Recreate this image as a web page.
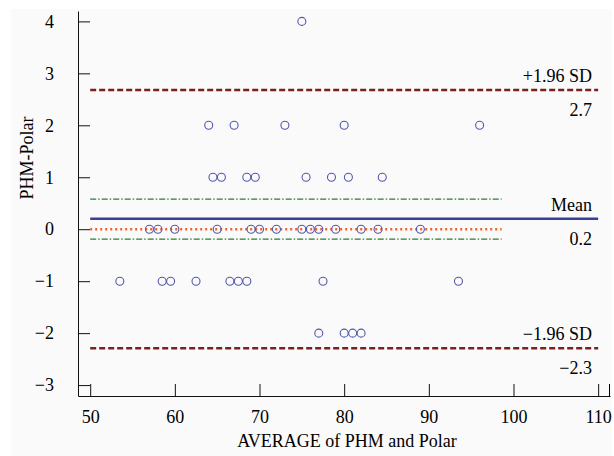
<!DOCTYPE html>
<html>
<head>
<meta charset="utf-8">
<script src="https://cdn.jsdelivr.net/npm/d3@7"></script>
<style>
  body { margin: 0; background: #fff; }
  text { font-family: "Liberation Serif", "DejaVu Serif", serif; }
</style>
</head>
<body>
<div id="chart"></div>
<script>
let width = 614,
  height = 456;

let margin = { top: 11, bottom: 60, left: 78, right: 4 };

// average (x) and difference (y) for each pair
const averages = [
  75,
  64, 67, 73, 80, 96,
  64.5, 65.5, 68.5, 69.5, 75.5, 78.5, 80.5, 84.5,
  57, 58, 60, 65, 69, 70, 72, 75, 76, 77, 79, 82, 84, 89,
  53.5, 58.5, 59.5, 62.5, 66.5, 67.5, 68.5, 77.5, 93.5,
  77, 80, 81, 82,
];
const differences = [
  4,
  2, 2, 2, 2, 2,
  1, 1, 1, 1, 1, 1, 1, 1,
  0, 0, 0, 0, 0, 0, 0, 0, 0, 0, 0, 0, 0, 0,
  -1, -1, -1, -1, -1, -1, -1, -1, -1,
  -2, -2, -2, -2,
];

const xTicks = [50, 60, 70, 80, 90, 100, 110];
const yTicks = [-3, -2, -1, 0, 1, 2, 3, 4];

// reference lines
const meanDiff = 0.2;
const upperLimit = 2.68;
const lowerLimit = -2.29;
const ciMean = [0.58, -0.19];
const lineRange = [50, 110];
const ciRange = [50, 98.6];
const limitLabels = [
  { value: upperLimit, name: "+1.96 SD", num: "2.7" },
  { value: meanDiff, name: "Mean", num: "0.2" },
  { value: lowerLimit, name: "\u22121.96 SD", num: "\u22122.3" },
];

const x = d3
  .scaleLinear()
  .domain([48.56, 111.4])
  .range([margin.left, width - margin.right]);

const y = d3
  .scaleLinear()
  .domain([-3.21, 4.2])
  .range([height - margin.bottom, margin.top]);

const svg = d3
  .select("#chart")
  .append("svg")
  .attr("width", width)
  .attr("height", height);

// faint grey panel behind everything
svg
  .append("rect")
  .attr("x", 11)
  .attr("y", 9)
  .attr("width", 601)
  .attr("height", height - 9)
  .attr("fill", "#fafafa");

const fmt = (d) => (d < 0 ? "\u2212" + Math.abs(d) : "" + d);

// axes, ticks pointing inwards
const xAxis = d3
  .axisBottom(x)
  .tickValues(xTicks)
  .tickSizeInner(-12)
  .tickSizeOuter(0)
  .tickPadding(14)
  .tickFormat(fmt);

const yAxis = d3
  .axisLeft(y)
  .tickValues(yTicks)
  .tickSizeInner(-12)
  .tickSizeOuter(0)
  .tickPadding(24)
  .tickFormat(fmt);

svg
  .append("g")
  .attr("class", "axis x-axis")
  .attr("transform", `translate(0, ${height - margin.bottom})`)
  .call(xAxis)
  .call((g) => g.selectAll("text").attr("font-size", 18).attr("font-family", null))
  .call((g) =>
    g
      .append("line")
      .attr("x1", x.range()[1] - 0.5)
      .attr("x2", x.range()[1] - 0.5)
      .attr("y1", 0)
      .attr("y2", -12)
      .attr("stroke", "currentColor")
  );

svg
  .append("g")
  .attr("class", "axis y-axis")
  .attr("transform", `translate(${margin.left}, 0)`)
  .call(yAxis)
  .call((g) => g.selectAll("text").attr("font-size", 18).attr("font-family", null));

svg.selectAll(".domain").attr("stroke", "#111");
svg.selectAll(".tick line").attr("stroke", "#111");

// axis titles
svg
  .append("text")
  .attr("x", (x.range()[0] + x.range()[1]) / 2 + 3)
  .attr("y", 447)
  .attr("text-anchor", "middle")
  .attr("font-size", 18)
  .text("AVERAGE of PHM and Polar");

svg
  .append("text")
  .attr("transform", `translate(33, 158) rotate(-90)`)
  .attr("text-anchor", "middle")
  .attr("font-size", 18)
  .text("PHM-Polar");

// limits of agreement
svg
  .selectAll(".limit")
  .data([upperLimit, lowerLimit])
  .join("line")
  .attr("class", "limit")
  .attr("x1", x(lineRange[0]))
  .attr("x2", x(lineRange[1]))
  .attr("y1", (d) => y(d))
  .attr("y2", (d) => y(d))
  .attr("stroke", "#7b1f1f")
  .attr("stroke-width", 2.5)
  .attr("stroke-dasharray", "6,3");

// confidence band of the mean
svg
  .selectAll(".ci")
  .data(ciMean)
  .join("line")
  .attr("class", "ci")
  .attr("x1", x(ciRange[0]))
  .attr("x2", x(ciRange[1]))
  .attr("y1", (d) => y(d))
  .attr("y2", (d) => y(d))
  .attr("stroke", "#2f7a35")
  .attr("stroke-width", 1.2)
  .attr("stroke-dasharray", "6,2,1.5,2");

// zero line
svg
  .append("line")
  .attr("x1", x(ciRange[0]))
  .attr("x2", x(ciRange[1]))
  .attr("y1", y(0))
  .attr("y2", y(0))
  .attr("stroke", "#f0622a")
  .attr("stroke-width", 2.5)
  .attr("stroke-dasharray", "2,3");

// mean line
svg
  .append("line")
  .attr("x1", x(lineRange[0]))
  .attr("x2", x(lineRange[1]))
  .attr("y1", y(meanDiff))
  .attr("y2", y(meanDiff))
  .attr("stroke", "#3a3f98")
  .attr("stroke-width", 2.5);

// points
svg
  .append("g")
  .selectAll("circle")
  .data(averages.map((a, i) => ({ avg: a, diff: differences[i] })))
  .join("circle")
  .attr("cx", (d) => x(d.avg))
  .attr("cy", (d) => y(d.diff))
  .attr("r", 4)
  .attr("fill", "none")
  .attr("stroke", "#5257ad")
  .attr("stroke-width", 1.1);

// labels on the right
const labels = svg.append("g").attr("font-size", 18).attr("text-anchor", "end");

labels
  .selectAll(".lname")
  .data(limitLabels)
  .join("text")
  .attr("class", "lname")
  .attr("x", 592)
  .attr("y", (d) => y(d.value) - 8)
  .text((d) => d.name);

labels
  .selectAll(".lnum")
  .data(limitLabels)
  .join("text")
  .attr("class", "lnum")
  .attr("x", 592)
  .attr("y", (d) => y(d.value) + 26)
  .text((d) => d.num);
</script>
</body>
</html>
